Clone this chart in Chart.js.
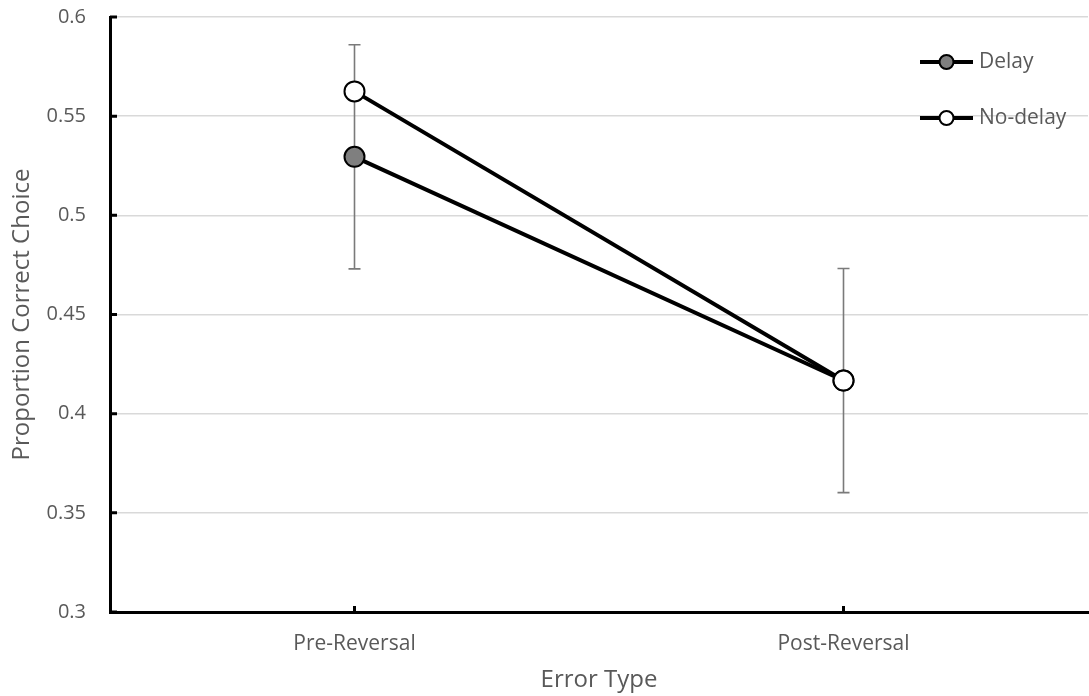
<!DOCTYPE html>
<html>
<head>
<meta charset="utf-8">
<script src="https://cdn.jsdelivr.net/npm/chart.js@4.4.1/dist/chart.umd.min.js"></script>
<style>
  html, body { margin: 0; padding: 0; background: #fff; overflow: hidden; }
  canvas { display: block; }
</style>
</head>
<body>
<canvas id="chart" width="1100" height="696"></canvas>
<script>
// Datos
const categories = ['Pre-Reversal', 'Post-Reversal'];
const delayValues = [0.5295, 0.4167];
const noDelayValues = [0.5625, 0.4167];
const delayErrors = [0.0565, 0.0565];
const yTicks = [0.3, 0.35, 0.4, 0.45, 0.5, 0.55, 0.6];

const TEXT = '#595959';
const FONT = "'Open Sans', sans-serif";

// barras de error (solo serie Delay)
const errorBars = {
    id: 'errorBars',
    beforeDatasetsDraw(chart) {
        const ctx = chart.ctx;
        const x = chart.scales.x, y = chart.scales.y;
        ctx.save();
        ctx.strokeStyle = '#7a7a7a';
        ctx.lineWidth = 1.6;
        delayValues.forEach((v, i) => {
            const px = x.getPixelForValue(i);
            const top = y.getPixelForValue(v + delayErrors[i]);
            const bot = y.getPixelForValue(v - delayErrors[i]);
            ctx.beginPath();
            ctx.moveTo(px, top); ctx.lineTo(px, bot);
            ctx.moveTo(px - 6, top); ctx.lineTo(px + 6, top);
            ctx.moveTo(px - 6, bot); ctx.lineTo(px + 6, bot);
            ctx.stroke();
        });
        ctx.restore();
    }
};

// marcas hacia dentro en los ejes
const innerTicks = {
    id: 'innerTicks',
    afterDraw(chart) {
        const ctx = chart.ctx;
        const x = chart.scales.x, y = chart.scales.y;
        const a = chart.chartArea;
        ctx.save();
        ctx.strokeStyle = '#000';
        ctx.lineWidth = 3;
        ctx.beginPath();
        yTicks.forEach(t => {
            const py = y.getPixelForValue(t);
            ctx.moveTo(a.left, py); ctx.lineTo(a.left + 7, py);
        });
        categories.forEach((c, i) => {
            const px = x.getPixelForValue(i);
            ctx.moveTo(px, a.bottom); ctx.lineTo(px, a.bottom - 6);
        });
        ctx.stroke();
        ctx.restore();
    }
};

// leyenda con línea y marcador
const lineLegend = {
    id: 'lineLegend',
    afterDraw(chart) {
        const ctx = chart.ctx;
        const rows = [
            { ds: chart.data.datasets[0], y: 62 },
            { ds: chart.data.datasets[1], y: 118 }
        ];
        ctx.save();
        rows.forEach(r => {
            ctx.strokeStyle = '#000';
            ctx.lineWidth = 4;
            ctx.beginPath();
            ctx.moveTo(920, r.y); ctx.lineTo(973, r.y);
            ctx.stroke();
            ctx.beginPath();
            ctx.arc(946.5, r.y, 7, 0, Math.PI * 2);
            ctx.fillStyle = r.ds.pointBackgroundColor;
            ctx.fill();
            ctx.lineWidth = 2;
            ctx.stroke();
            ctx.fillStyle = TEXT;
            ctx.font = `21px ${FONT}`;
            ctx.textAlign = 'left';
            ctx.textBaseline = 'middle';
            ctx.fillText(r.ds.label, 979, r.y);
        });
        ctx.restore();
    }
};

// quitar el relleno automático de las etiquetas para fijar el área
const noPad = s => { s.paddingTop = 0; s.paddingBottom = 0; s.paddingLeft = 0; s.paddingRight = 0; };

new Chart(document.getElementById('chart'), {
    type: 'line',
    data: {
        labels: categories,
        datasets: [{
            label: 'Delay',
            data: delayValues,
            borderColor: '#000',
            borderWidth: 4,
            pointBackgroundColor: '#7f7f7f',
            pointBorderColor: '#000',
            pointBorderWidth: 2,
            pointRadius: 10,
            order: 1
        }, {
            label: 'No-delay',
            data: noDelayValues,
            borderColor: '#000',
            borderWidth: 4,
            pointBackgroundColor: '#ffffff',
            pointBorderColor: '#000',
            pointBorderWidth: 2,
            pointRadius: 10,
            order: 0
        }]
    },
    options: {
        responsive: false,
        animation: false,
        layout: { padding: { top: 17, right: 0, left: 0, bottom: 0 } },
        scales: {
            x: {
                offset: true,
                grid: { display: false, drawTicks: false },
                border: { display: true, color: '#000', width: 3 },
                ticks: { color: TEXT, font: { family: FONT, size: 21 }, padding: 19 },
                title: { display: true, text: 'Error Type', color: TEXT, font: { family: FONT, size: 24 }, padding: { top: 0, bottom: 1 } },
                afterFit: s => { s.height = 84; noPad(s); }
            },
            y: {
                min: 0.3,
                max: 0.6,
                afterBuildTicks: s => { s.ticks = yTicks.map(v => ({ value: v })); },
                grid: { color: '#d9d9d9', lineWidth: 1.5, drawTicks: false },
                border: { display: true, color: '#000', width: 3 },
                ticks: { color: TEXT, font: { family: FONT, size: 20 }, padding: 24, callback: v => String(v) },
                title: { display: true, text: 'Proportion Correct Choice', color: TEXT, font: { family: FONT, size: 24 }, padding: { top: 8, bottom: 0 } },
                afterFit: s => { s.width = 110; noPad(s); }
            }
        },
        plugins: {
            legend: { display: false },
            tooltip: { enabled: false }
        }
    },
    plugins: [errorBars, innerTicks, lineLegend]
});
</script>
</body>
</html>
